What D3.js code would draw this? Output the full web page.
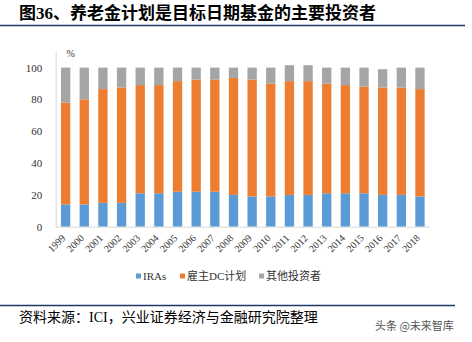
<!DOCTYPE html>
<html>
<head>
<meta charset="utf-8">
<script src="https://cdn.jsdelivr.net/npm/d3@7"></script>
<style>
html,body{margin:0;padding:0;background:#fff;}
svg{display:block;}
</style>
</head>
<body>
<svg id="chart" width="472" height="342"></svg>
<script>
const years = ["1999","2000","2001","2002","2003","2004","2005","2006","2007","2008","2009","2010","2011","2012","2013","2014","2015","2016","2017","2018"];
const iras   = [14,14,15,15,21,21,22,22,22,20,19,19,20,20,21,21,21,20,20,19];
const dcPlan = [64,66,71.5,72.5,68,68,69.5,70.5,70.5,73.5,73.5,71,71.5,71.5,69,68,67,67.5,67.5,67.5];
const others = [22,20,13.5,12.5,11,11,8.5,7.5,7.5,6.5,7.5,10,10,10,10,11,12,11.5,12.5,13.5];
const seriesNames = ["IRAs","雇主DC计划","其他投资者"];
const yTicks = [0,20,40,60,80,100];
const titleText = "图36、养老金计划是目标日期基金的主要投资者";
const sourceText = "资料来源：ICI，兴业证券经济与金融研究院整理";
const watermarkText = "头条 @未来智库";

const colors = ["#5B9BD5","#ED7D31","#A5A5A5"];
const serif = "'Liberation Serif','Times New Roman','Noto Sans CJK SC',serif";
const cjk = "'Liberation Serif','Noto Sans CJK SC',sans-serif";

const svg = d3.select("#chart");

// title
svg.append("text").attr("x",19).attr("y",19)
  .attr("font-family",cjk).attr("font-weight","bold").attr("font-size",17)
  .attr("fill","#000").text(titleText);
svg.append("line").attr("x1",0).attr("x2",465).attr("y1",25.5).attr("y2",25.5)
  .attr("stroke","#1F3864").attr("stroke-width",1.6);

const x = d3.scaleBand().domain(years).range([56.3,429.3]).paddingInner(0.5).paddingOuter(0.25);
const y = d3.scaleLinear().domain([0,110]).range([226.7,51.7]);

const table = years.map((yr,i)=>({year:yr, a:iras[i], b:dcPlan[i], c:others[i]}));
const stack = d3.stack().keys(["a","b","c"])(table);

svg.append("g").selectAll("g").data(stack).join("g")
  .attr("fill",(d,i)=>colors[i])
  .selectAll("rect").data(d=>d).join("rect")
  .attr("x",d=>x(d.data.year))
  .attr("width",x.bandwidth())
  .attr("y",d=>y(d[1]))
  .attr("height",d=>y(d[0])-y(d[1]));

// y axis
const yAxis = svg.append("g").attr("transform","translate(55.7,0)")
  .call(d3.axisLeft(y).tickValues(yTicks).tickSize(0).tickPadding(13.5).tickFormat(d3.format("d")));
yAxis.select(".domain").attr("stroke","#D9D9D9");
yAxis.selectAll("text").attr("font-family",serif).attr("font-size",11).attr("fill","#333");

svg.append("text").attr("x",66.5).attr("y",57).attr("font-family",serif)
  .attr("font-size",10).attr("fill","#333").text("%");

// x axis
const xAxis = svg.append("g").attr("transform","translate(0,226.7)")
  .call(d3.axisBottom(x).tickSize(0).tickPadding(0));
xAxis.select(".domain").attr("stroke","#D9D9D9").attr("d","M55.7,0.5H430");
xAxis.selectAll("text")
  .attr("font-family",serif).attr("font-size",10).attr("fill","#333")
  .attr("text-anchor","end")
  .attr("dy","0")
  .attr("transform","translate(0.5,12) rotate(-45)");

// legend
const legendX = [136,180,259];
const lg = svg.append("g");
seriesNames.forEach((n,i)=>{
  lg.append("rect").attr("x",legendX[i]).attr("y",273.5).attr("width",5).attr("height",5).attr("fill",colors[i]);
  lg.append("text").attr("x",legendX[i]+7).attr("y",280)
    .attr("font-family",cjk).attr("font-size",11).attr("fill","#333").text(n);
});

// footer
svg.append("line").attr("x1",0).attr("x2",455).attr("y1",305.5).attr("y2",305.5)
  .attr("stroke","#1F3864").attr("stroke-width",1.6);
svg.append("text").attr("x",19).attr("y",322)
  .attr("font-family",cjk).attr("font-size",14).attr("fill","#000").text(sourceText);
svg.append("text").attr("x",375).attr("y",330)
  .attr("font-family","'Noto Sans CJK SC',sans-serif").attr("font-size",11).attr("fill","#555").text(watermarkText);
</script>
</body>
</html>
